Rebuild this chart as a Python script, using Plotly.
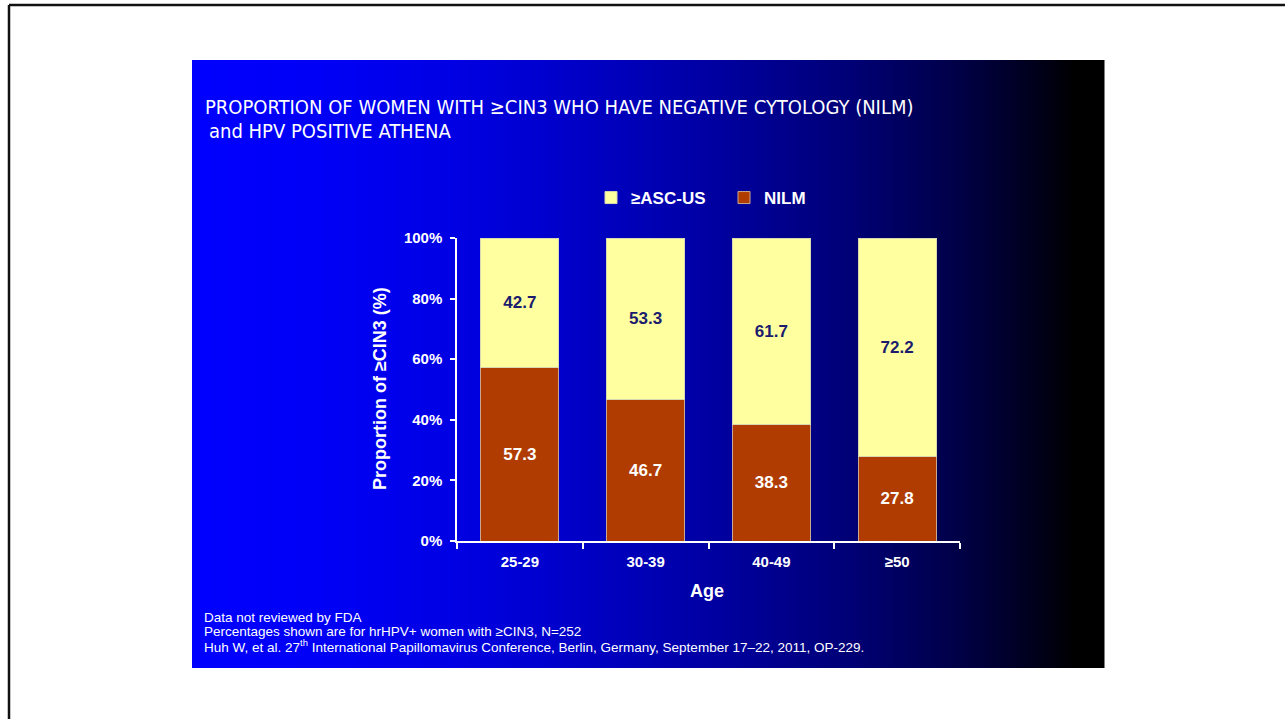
import numpy as np
import plotly.graph_objects as go

# ---- data ----
age_groups = ["25-29", "30-39", "40-49", "≥50"]
nilm = [57.3, 46.7, 38.3, 27.8]
asc_us = [42.7, 53.3, 61.7, 72.2]
y_ticks = [0, 20, 40, 60, 80, 100]
y_tick_labels = ["0%", "20%", "40%", "60%", "80%", "100%"]

title_line1 = "PROPORTION OF WOMEN WITH ≥CIN3 WHO HAVE NEGATIVE CYTOLOGY (NILM)"
title_line2 = "and HPV POSITIVE ATHENA"
footnotes = [
    "Data not reviewed by FDA",
    "Percentages shown are for hrHPV+ women with ≥CIN3, N=252",
    "Huh W, et al. 27<sup>th</sup> International Papillomavirus Conference, Berlin, Germany, September 17–22, 2011, OP-229.",
]

W, H = 1285, 719
def px(x):
    return x / W
def py(y):
    return 1 - y / H

ARIAL = "Liberation Sans, Arial, sans-serif"
NARROW = "Liberation Sans Narrow, DejaVu Sans Condensed, Arial Narrow, sans-serif"

fig = go.Figure()
fig.add_trace(go.Bar(
    x=age_groups, y=nilm, name="NILM",
    marker=dict(color="#B03C02", line=dict(color="#C8A890", width=1)),
    texttemplate="%{y:.1f}", textposition="inside", insidetextanchor="middle",
    textangle=0, constraintext="none",
    textfont=dict(family=ARIAL, size=17, color="white", weight="bold"),
))
fig.add_trace(go.Bar(
    x=age_groups, y=asc_us, name="≥ASC-US",
    marker=dict(color="#FFFFA0", line=dict(color="#D8D8B0", width=1)),
    texttemplate="%{y:.1f}", textposition="inside", insidetextanchor="middle",
    textangle=0, constraintext="none",
    textfont=dict(family=ARIAL, size=17, color="#1C1C6E", weight="bold"),
))

# background gradient panel (blue -> black)
shapes = []
x0p, x1p, y0p, y1p = 192, 1104, 60, 668
stops_x = [192, 330, 450, 550, 650, 750, 850, 950, 1000, 1050, 1075, 1104]
stops_v = [255, 245, 228, 205, 180, 150, 118, 75, 48, 18, 0, 0]
step = 4
for xs in range(x0p, x1p, step):
    xe = min(xs + step, x1p)
    v = int(round(np.interp((xs + xe) / 2, stops_x, stops_v)))
    shapes.append(dict(type="rect", xref="paper", yref="paper",
                       x0=px(xs), x1=px(xe + 0.5), y0=py(y1p), y1=py(y0p),
                       fillcolor=f"rgb(0,0,{v})", line=dict(width=0), layer="below"))
# slide border (left and top)
shapes.append(dict(type="line", xref="paper", yref="paper", x0=px(9), x1=px(9),
                   y0=py(5), y1=0, line=dict(color="#111111", width=2.5)))
shapes.append(dict(type="line", xref="paper", yref="paper", x0=px(9), x1=1,
                   y0=py(5), y1=py(5), line=dict(color="#111111", width=2.5)))

annotations = [
    dict(text=title_line1, x=px(203), y=py(107), xref="paper", yref="paper",
         xanchor="left", yanchor="middle", showarrow=False,
         font=dict(family=NARROW, size=20, color="white")),
    dict(text=title_line2, x=px(207), y=py(131), xref="paper", yref="paper",
         xanchor="left", yanchor="middle", showarrow=False,
         font=dict(family=NARROW, size=20, color="white")),
    dict(text="Proportion of ≥CIN3 (%)", x=px(380), y=py(389), xref="paper", yref="paper",
         xanchor="center", yanchor="middle", showarrow=False, textangle=-90,
         font=dict(family=ARIAL, size=18, color="white", weight="bold")),
    dict(text="Age", x=px(707), y=py(591), xref="paper", yref="paper",
         xanchor="center", yanchor="middle", showarrow=False,
         font=dict(family=ARIAL, size=18, color="white", weight="bold")),
]
for i, (t, yy) in enumerate(zip(footnotes, [617, 631, 646])):
    annotations.append(dict(text=t, x=px(202), y=py(yy), xref="paper", yref="paper",
                            xanchor="left", yanchor="middle", showarrow=False,
                            font=dict(family=ARIAL, size=13.5, color="white")))

fig.update_layout(
    width=W, height=H,
    margin=dict(l=0, r=0, t=0, b=0, pad=0, autoexpand=False),
    paper_bgcolor="white", plot_bgcolor="rgba(0,0,0,0)",
    barmode="stack", bargap=0.38,
    shapes=shapes, annotations=annotations,
    showlegend=True,
    legend=dict(orientation="h", x=px(591), y=py(198), xanchor="left", yanchor="middle",
                traceorder="reversed", bgcolor="rgba(0,0,0,0)",
                font=dict(family=ARIAL, size=17, color="white", weight="bold"),
                itemclick=False, itemwidth=30, entrywidth=88, entrywidthmode="pixels"),
    xaxis=dict(domain=[px(457), px(960)], showline=True, linecolor="white", linewidth=1.5,
               ticks="outside", tickson="boundaries", ticklen=6, tickcolor="white", tickwidth=1.5,
               showgrid=False, zeroline=False, automargin=False, ticklabelstandoff=6,
               tickfont=dict(family=ARIAL, size=15, color="white", weight="bold")),
    yaxis=dict(domain=[py(541), py(238)], range=[0, 100], showline=True, linecolor="white",
               linewidth=1.5, ticks="outside", ticklen=5, tickcolor="white", tickwidth=1.5,
               tickvals=y_ticks, ticktext=y_tick_labels, showgrid=False, zeroline=False,
               automargin=False, ticklabelstandoff=5,
               tickfont=dict(family=ARIAL, size=15, color="white", weight="bold")),
)

fig.write_html("out.html")
